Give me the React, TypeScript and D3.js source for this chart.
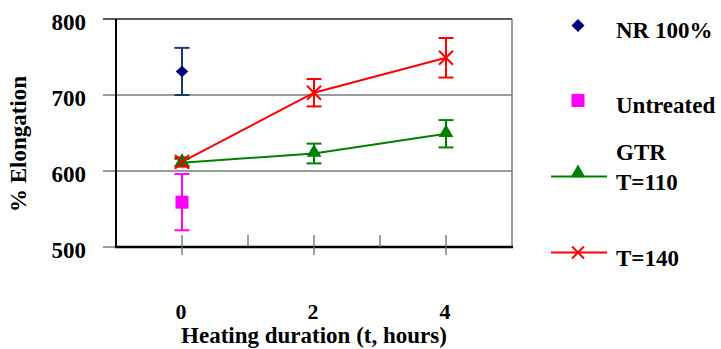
import React from 'react';
import * as d3 from 'd3';

const HOURS = [0, 2, 4];
const GTR110 = [611, 623, 649];
const GTR110_ERR = [5, 13, 18];
const GTR140 = [612, 703, 749];
const GTR140_ERR = [6, 18, 26];
const NR_MEAN = 731;
const NR_ERR = 31;
const UNTREATED_MEAN = 559;
const UNTREATED_ERR = 37;

const Y_TICKS = [500, 600, 700, 800];
const X_TICKS = [0, 1, 2, 3, 4];
const X_LABELS = [0, 2, 4];

const FONT = "'Liberation Serif', serif";
const RED = '#ff0000';
const GREEN = '#008000';
const MAGENTA = '#ff00ff';
const NAVY = '#000080';
const NAVY_BAR = '#1b3a6b';

const W = 721;
const H = 349;
const margin = { top: 19, right: 209, bottom: 102, left: 116 };

export default function App() {
  const x = d3.scaleLinear().domain([-1, 5]).range([margin.left, W - margin.right]);
  const y = d3.scaleLinear().domain([500, 800]).range([H - margin.bottom, margin.top]);
  const x0 = x(-1);
  const x1 = x(5);
  const yb = y(500);

  const line = d3.line<number>().x((_, i) => x(HOURS[i])).y((d) => y(d));

  const errBar = (cx: number, mean: number, err: number, color: string, key: string) => (
    <g key={key} stroke={color} strokeWidth={2} fill="none">
      <line x1={cx} x2={cx} y1={y(mean + err)} y2={y(mean - err)} />
      <line x1={cx - 7.5} x2={cx + 7.5} y1={y(mean + err)} y2={y(mean + err)} />
      <line x1={cx - 7.5} x2={cx + 7.5} y1={y(mean - err)} y2={y(mean - err)} />
    </g>
  );

  const tri = d3.symbol(d3.symbolTriangle, 95)();
  const diamond = (cx: number, cy: number, r = 6.3, h = 5.8) =>
    `M${cx},${cy - h}L${cx + r},${cy}L${cx},${cy + h}L${cx - r},${cy}Z`;
  const cross = (cx: number, cy: number, s = 7) =>
    `M${cx - s},${cy - s}L${cx + s},${cy + s}M${cx - s},${cy + s}L${cx + s},${cy - s}`;

  const txtStyle = { fontFamily: FONT, fontWeight: 700, fontSize: '23px', fill: '#000' };

  return (
    <svg width={W} height={H} style={{ position: 'absolute', left: 0, top: 0, background: '#fff' }}>
      {/* gridlines + outer ticks */}
      {Y_TICKS.map((t) => (
        <line key={'g' + t} x1={x0 - 13} x2={x1} y1={y(t)} y2={y(t)}
          stroke={t === 800 ? '#222' : '#7a7a7a'} strokeWidth={1.5} />
      ))}
      {/* right border */}
      <line x1={x1} x2={x1} y1={y(800)} y2={yb} stroke="#7a7a7a" strokeWidth={1.5} />
      {/* axes */}
      <line x1={x0} x2={x0} y1={y(800)} y2={yb + 1} stroke="#000" strokeWidth={2} />
      <line x1={x0 - 1} x2={x1 + 1} y1={yb} y2={yb} stroke="#000" strokeWidth={2.5} />
      {X_TICKS.map((t) => (
        <line key={'xt' + t} x1={x(t)} x2={x(t)} y1={yb - 12}
          y2={X_LABELS.includes(t) ? yb + 8 : yb} stroke="#6a6a6a" strokeWidth={1.3} />
      ))}
      {Y_TICKS.map((t) => (
        <text key={'yl' + t} x={86} y={y(t) + 11} textAnchor="end" style={txtStyle}>{t}</text>
      ))}
      {X_LABELS.map((t) => (
        <text key={'xl' + t} x={x(t) - 1} y={319} textAnchor="middle" style={{ ...txtStyle, fontSize: '22px' }}>{t}</text>
      ))}
      <text x={314} y={343} textAnchor="middle" style={txtStyle}>Heating duration (t, hours)</text>
      <text transform="translate(26,144) rotate(-90)" textAnchor="middle" style={txtStyle}>% Elongation</text>

      {/* series lines */}
      <path d={line(GTR110) ?? ''} fill="none" stroke={GREEN} strokeWidth={2} />
      <path d={line(GTR140) ?? ''} fill="none" stroke={RED} strokeWidth={2} />

      {/* error bars */}
      {errBar(x(0), NR_MEAN, NR_ERR, NAVY_BAR, 'nr')}
      {errBar(x(0), UNTREATED_MEAN, UNTREATED_ERR, MAGENTA, 'un')}
      {HOURS.map((h, i) => errBar(x(h), GTR110[i], GTR110_ERR[i], GREEN, 'e110' + i))}
      {HOURS.map((h, i) => errBar(x(h), GTR140[i], GTR140_ERR[i], RED, 'e140' + i))}

      {/* markers */}
      <path d={diamond(x(0), y(NR_MEAN))} fill={NAVY} />
      <rect x={x(0) - 6.5} y={y(UNTREATED_MEAN) - 6.5} width={13} height={13} fill={MAGENTA} />
      {HOURS.map((h, i) => (
        <path key={'m110' + i} d={tri ?? ''} transform={`translate(${x(h)},${y(GTR110[i]) - 1})`} fill={GREEN} />
      ))}
      {HOURS.map((h, i) => (
        <path key={'m140' + i} d={cross(x(h), y(GTR140[i]))} stroke={RED} strokeWidth={2} fill="none" />
      ))}

      {/* legend */}
      <g>
        <path d={diamond(578, 25.5, 6.5, 6.5)} fill={NAVY} />
        <text x={616} y={38} style={txtStyle}>NR 100%</text>
        <rect x={571.5} y={94} width={13} height={13} fill={MAGENTA} />
        <text x={616} y={113} style={txtStyle}>Untreated</text>
        <line x1={551} x2={607} y1={176.5} y2={176.5} stroke={GREEN} strokeWidth={2} />
        <path d={tri ?? ''} transform="translate(578,173)" fill={GREEN} />
        <text x={616} y={160} style={txtStyle}>GTR</text>
        <text x={616} y={190} style={txtStyle}>T=110</text>
        <line x1={551} x2={607} y1={252.5} y2={252.5} stroke={RED} strokeWidth={2} />
        <path d={cross(578, 252.5, 6)} stroke={RED} strokeWidth={2} fill="none" />
        <text x={616} y={266} style={txtStyle}>T=140</text>
      </g>
    </svg>
  );
}
